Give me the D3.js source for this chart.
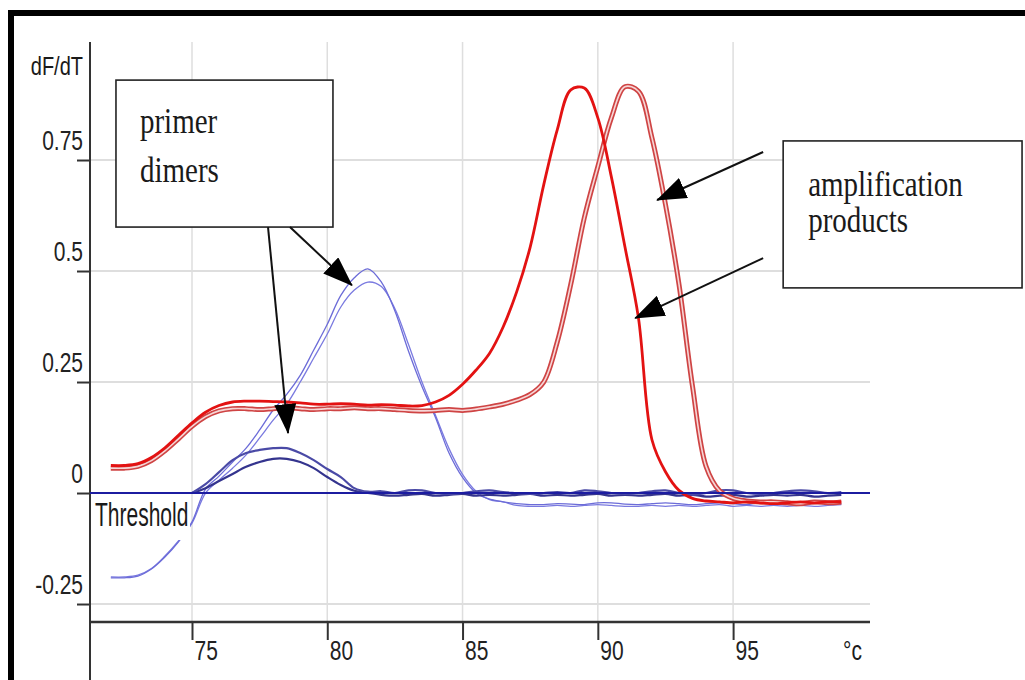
<!DOCTYPE html>
<html>
<head>
<meta charset="utf-8">
<script src="https://cdn.jsdelivr.net/npm/d3@7"></script>
<style>
  body { margin: 0; background: #fff; }
</style>
</head>
<body>
<div id="grafico"></div>
<script>
// Melt curve data (temperature in °C, dF/dT).
var temps = [72,72.5,73,73.5,74,74.5,75,75.5,76,76.5,
             77,77.5,78,78.5,79,79.5,80,80.5,81,81.5,
             82,82.5,83,83.5,84,84.5,85,85.5,86,86.5,
             87,87.5,88,88.5,89,89.5,90,90.5,91,91.5,
             92,92.5,93,93.5,94,94.5,95,95.5,96,96.5,
             97,97.5,98,98.5,99];

var redA = [.062,.062,.066,.080,.102,.130,.158,.182,.197,.205,
            .207,.207,.206,.205,.203,.200,.200,.201,.200,.198,
            .199,.198,.196,.197,.205,.220,.245,.277,.315,.374,
            .453,.554,.694,.818,.908,.912,.845,.712,.555,.395,
            .120,.048,.006,-.012,-.018,-.020,-.022,-.020,-.022,-.024,
            -.022,-.020,-.022,-.020,-.020];

var redB = [.056,.056,.060,.073,.095,.122,.150,.172,.185,.190,
            .190,.188,.190,.192,.190,.188,.190,.190,.192,.190,
            .190,.188,.186,.185,.186,.188,.186,.189,.194,.200,
            .209,.222,.250,.340,.470,.620,.735,.845,.915,.905,
            .800,.650,.470,.240,.060,.005,-.012,-.018,-.020,-.020,
            -.022,-.024,-.020,-.022,-.020];

var blueHi1 = [-.191,-.191,-.187,-.171,-.144,-.110,-.065,.009,.038,.070,
               .101,.142,.187,.222,.265,.322,.380,.445,.485,.505,
               .475,.410,.320,.240,.170,.090,.035,.000,-.014,-.020,
               -.024,-.026,-.026,-.024,-.025,-.026,-.022,-.022,-.025,-.026,
               -.024,-.022,-.024,-.026,-.024,-.022,-.024,-.026,-.022,-.024,
               -.026,-.024,-.022,-.024,-.024];

var blueHi2 = [-.189,-.189,-.185,-.170,-.142,-.108,-.068,.000,.029,.056,
               .086,.124,.164,.200,.250,.304,.358,.419,.457,.475,
               .465,.415,.335,.250,.175,.100,.042,.004,-.015,-.020,
               -.028,-.030,-.030,-.028,-.030,-.028,-.026,-.028,-.030,-.030,
               -.028,-.030,-.028,-.030,-.028,-.026,-.030,-.028,-.030,-.028,
               -.030,-.028,-.030,-.028,-.026];

var blueLo1 = [null,null,null,null,null,null,.000,.020,.047,.074,
               .090,.097,.101,.101,.090,.074,.054,.036,.011,.003,
               .004,.000,.006,.006,.000,-.002,.000,.004,.006,.002,
               .000,-.002,.000,.002,.000,.006,.004,.000,-.002,.000,
               .004,.006,.000,-.004,.000,.006,.006,.000,-.002,.000,
               .004,.006,.004,.000,.002];

var blueLo2 = [null,null,null,null,null,null,.000,.011,.027,.043,
               .059,.070,.077,.077,.070,.056,.036,.018,.005,.000,
               -.004,-.006,-.004,-.002,-.006,-.004,-.002,-.006,-.004,-.006,
               -.004,-.002,-.006,-.004,-.006,-.004,-.002,-.006,-.004,-.006,
               -.004,-.002,-.006,-.004,-.008,-.006,-.004,-.008,-.006,-.004,
               -.006,-.004,-.008,-.006,-.004];

var threshold = 0;

var xTicks = [75, 80, 85, 90, 95];
var yTicks = [-0.25, 0, 0.25, 0.5, 0.75];
var yTickLabels = ['-0.25', '0', '0.25', '0.5', '0.75'];

// Annotations, in data units: [x0, y0, x1, y1]
var boxPrimer = [72.19, 0.930, 80.21, 0.599];
var boxAmp = [96.85, 0.793, 105.68, 0.462];
var arrowsPrimer = [[77.81, 0.599, 78.55, 0.135], [78.62, 0.599, 80.91, 0.468]];
var arrowsAmp = [[96.11, 0.768, 92.19, 0.66], [96.11, 0.529, 91.38, 0.394]];

var W = 1025, H = 680;
var sans = "'Liberation Sans', Arial, sans-serif";
var serif = "'Liberation Serif', 'Times New Roman', serif";

var svg = d3.select("#grafico")
  .append("svg")
    .attr("width", W)
    .attr("height", H)
    .style("display", "block");

svg.append("rect").attr("width", W).attr("height", H).attr("fill", "#fff");

var x = d3.scaleLinear().domain([71.23, 100.06]).range([90, 870]);
var y = d3.scaleLinear().domain([-0.2905, 1.0158]).range([622, 42]);

// grid
svg.append("g")
  .selectAll("line")
  .data(yTicks.filter(function(d){ return d !== 0; }))
  .enter().append("line")
    .attr("x1", x.range()[0]).attr("x2", x.range()[1])
    .attr("y1", function(d){ return y(d); })
    .attr("y2", function(d){ return y(d); })
    .attr("stroke", "#dedede")
    .attr("stroke-width", 2);

svg.append("g")
  .selectAll("line")
  .data(xTicks)
  .enter().append("line")
    .attr("x1", function(d){ return x(d); })
    .attr("x2", function(d){ return x(d); })
    .attr("y1", y.range()[1]).attr("y2", y.range()[0])
    .attr("stroke", "#dedede")
    .attr("stroke-width", 1.5);

// axes
var yAxis = svg.append("g")
  .attr("transform", "translate(" + x.range()[0] + ",0)")
  .call(d3.axisLeft(y).tickValues(yTicks).tickSize(13).tickSizeOuter(0)
    .tickFormat(function(d, i){ return yTickLabels[i]; }));
yAxis.select(".domain").remove();
yAxis.selectAll(".tick line").attr("stroke", "#333").attr("stroke-width", 2);
yAxis.selectAll(".tick text")
  .attr("x", null).attr("dy", null)
  .attr("transform", "translate(-7,-11) scale(1,1.3)")
  .attr("text-anchor", "end")
  .style("font-family", sans).style("font-size", "21px").style("fill", "#222");

var xAxis = svg.append("g")
  .attr("transform", "translate(0," + y.range()[0] + ")")
  .call(d3.axisBottom(x).tickValues(xTicks).tickSize(18).tickSizeOuter(0));
xAxis.select(".domain").remove();
xAxis.selectAll(".tick line").attr("stroke", "#333").attr("stroke-width", 2);
xAxis.selectAll(".tick text")
  .attr("y", null).attr("dy", null)
  .attr("transform", "translate(2,38) scale(1,1.3)")
  .attr("text-anchor", "start")
  .style("font-family", sans).style("font-size", "21px").style("fill", "#222");

svg.append("line")
  .attr("x1", x.range()[0]).attr("x2", x.range()[0])
  .attr("y1", y.range()[1]).attr("y2", H)
  .attr("stroke", "#333").attr("stroke-width", 2);
svg.append("line")
  .attr("x1", x.range()[0]).attr("x2", x.range()[1])
  .attr("y1", y.range()[0]).attr("y2", y.range()[0])
  .attr("stroke", "#333").attr("stroke-width", 2.5);

function label(px, py, s, size, family, anchor, sy) {
  return svg.append("text")
    .attr("transform", "translate(" + px + "," + py + ") scale(1," + sy + ")")
    .attr("text-anchor", anchor)
    .style("font-family", family)
    .style("font-size", size + "px")
    .style("fill", "#1a1a1a")
    .text(s);
}

label(x.range()[0] - 7, 75, "dF/dT", 20, sans, "end", 1.3);
label(843, 660, "°c", 21, sans, "start", 1.3);

// curves
var line = d3.line()
  .defined(function(d){ return d[1] !== null; })
  .x(function(d){ return x(d[0]); })
  .y(function(d){ return y(d[1]); })
  .curve(d3.curveCatmullRom.alpha(0.5));

function pts(vals) {
  return temps.map(function(t, i){ return [t, vals[i]]; });
}

function curve(vals, color, w) {
  svg.append("path")
    .datum(pts(vals))
    .attr("fill", "none")
    .attr("stroke", color)
    .attr("stroke-width", w)
    .attr("stroke-linejoin", "round")
    .attr("d", line);
}

curve(blueHi2, "#7a7ae0", 1.3);
curve(blueHi1, "#6c6cd8", 1.3);
curve(blueLo2, "#34348e", 2.2);
curve(blueLo1, "#4a4aa6", 2.2);

// double-line red (outer + pale inner)
curve(redB, "#cf4444", 5);
curve(redB, "#f6d6d6", 1.6);
curve(redA, "#e31212", 2.8);

// threshold
svg.append("line")
  .attr("x1", x.range()[0]).attr("x2", x.range()[1])
  .attr("y1", y(threshold)).attr("y2", y(threshold))
  .attr("stroke", "#1c1ca0").attr("stroke-width", 2.2);

svg.append("rect")
  .attr("x", x.range()[0] + 1).attr("y", y(threshold) + 4)
  .attr("width", 99).attr("height", 43)
  .attr("fill", "#fff");
label(x.range()[0] + 5, y(threshold) + 33, "Threshold", 21, sans, "start", 1.6);

// arrows
svg.append("defs").append("marker")
  .attr("id", "head")
  .attr("markerUnits", "userSpaceOnUse")
  .attr("viewBox", "0 0 30 22")
  .attr("markerWidth", 30).attr("markerHeight", 22)
  .attr("refX", 29).attr("refY", 11)
  .attr("orient", "auto")
  .append("path")
    .attr("d", "M0,0 L30,11 L0,22 Z")
    .attr("fill", "#000");

function box(b) {
  svg.append("rect")
    .attr("x", x(b[0])).attr("y", y(b[1]))
    .attr("width", x(b[2]) - x(b[0]))
    .attr("height", y(b[3]) - y(b[1]))
    .attr("fill", "#fff")
    .attr("stroke", "#222")
    .attr("stroke-width", 1.6);
}

function arrows(list) {
  svg.append("g")
    .selectAll("line")
    .data(list)
    .enter().append("line")
      .attr("x1", function(d){ return x(d[0]); })
      .attr("y1", function(d){ return y(d[1]); })
      .attr("x2", function(d){ return x(d[2]); })
      .attr("y2", function(d){ return y(d[3]); })
      .attr("stroke", "#111")
      .attr("stroke-width", 2)
      .attr("marker-end", "url(#head)");
}

box(boxPrimer);
box(boxAmp);
arrows(arrowsPrimer);
arrows(arrowsAmp);

label(x(boxPrimer[0]) + 24, y(boxPrimer[1]) + 53, "primer", 29, serif, "start", 1.25);
label(x(boxPrimer[0]) + 24, y(boxPrimer[1]) + 102, "dimers", 29, serif, "start", 1.25);
label(x(boxAmp[0]) + 25, y(boxAmp[1]) + 55, "amplification", 29, serif, "start", 1.25);
label(x(boxAmp[0]) + 25, y(boxAmp[1]) + 91, "products", 29, serif, "start", 1.25);

// screenshot frame
svg.append("rect").attr("x", 8).attr("y", 10).attr("width", W - 8).attr("height", 6).attr("fill", "#000");
svg.append("rect").attr("x", 8).attr("y", 10).attr("width", 6).attr("height", H - 10).attr("fill", "#000");
</script>
</body>
</html>
